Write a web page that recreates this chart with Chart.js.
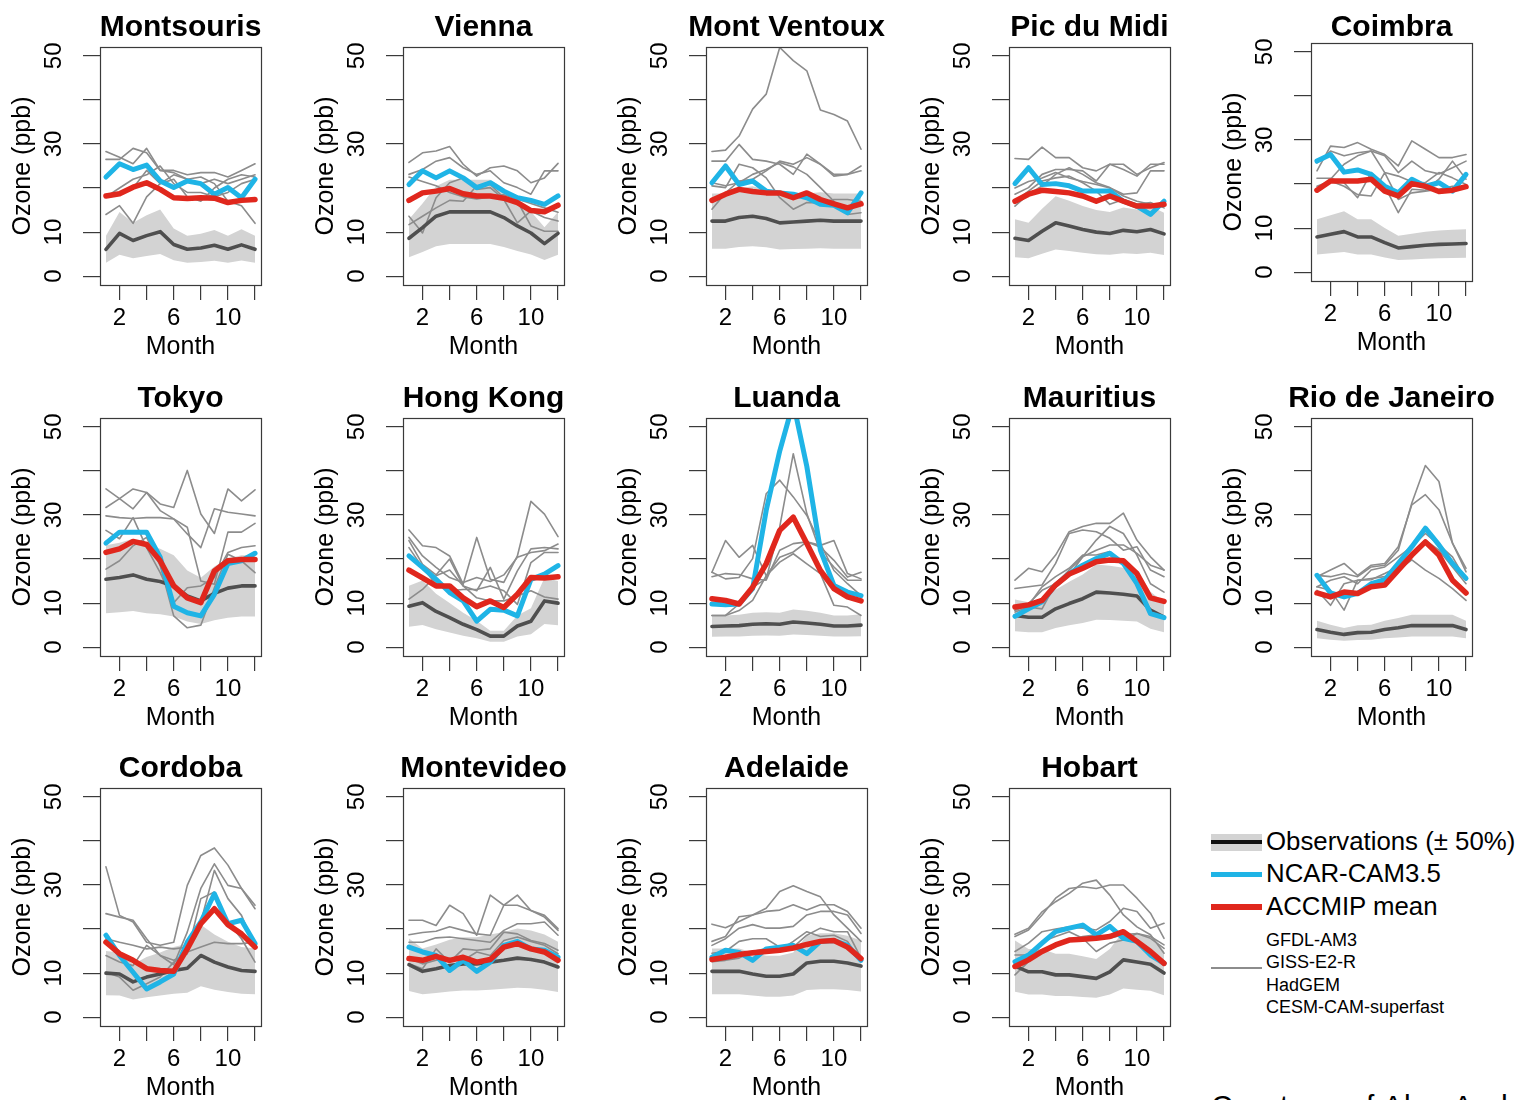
<!DOCTYPE html>
<html>
<head>
<meta charset="utf-8">
<script src="https://cdn.jsdelivr.net/npm/chart.js@4.4.1/dist/chart.umd.min.js"></script>
<style>
  html, body { margin: 0; padding: 0; background: #fff; overflow: hidden; }
  #page { position: relative; width: 1517px; height: 1100px; overflow: hidden;
          font-family: "Liberation Sans", Arial, Helvetica, sans-serif; color: #000; }
  #page canvas { position: absolute; }
  .sw { position: absolute; }
  .lt { position: absolute; white-space: nowrap; line-height: 1; }
</style>
</head>
<body>
<div id="page">
  <!-- legend -->
  <div class="sw" style="left:1211px;top:834px;width:51px;height:17px;background:#d3d3d3"></div>
  <div class="sw" style="left:1211px;top:840px;width:51px;height:4px;background:#111"></div>
  <div class="lt" style="left:1266px;top:829px;font-size:25.8px">Observations (± 50%)</div>
  <div class="sw" style="left:1211px;top:872px;width:51px;height:5px;background:#1fb4e6"></div>
  <div class="lt" style="left:1266px;top:861px;font-size:25.8px">NCAR-CAM3.5</div>
  <div class="sw" style="left:1211px;top:904px;width:51px;height:6px;background:#e0271d"></div>
  <div class="lt" style="left:1266px;top:894px;font-size:25.8px">ACCMIP mean</div>
  <div class="sw" style="left:1211px;top:967px;width:51px;height:2px;background:#8c8c8c"></div>
  <div class="lt" id="modelNames" style="left:1266px;top:929px;font-size:18px;line-height:22.3px"></div>
  <div class="lt" style="left:1211px;top:1091px;font-size:30px;letter-spacing:1px">Courtesy of Alex Archibald</div>
</div>
<script>
// ---- data: monthly surface ozone (ppb) ----
const MONTHS = [1, 2, 3, 4, 5, 6, 7, 8, 9, 10, 11, 12];

const STATIONS = ['Montsouris', 'Vienna', 'Mont Ventoux', 'Pic du Midi', 'Coimbra',
                  'Tokyo', 'Hong Kong', 'Luanda', 'Mauritius', 'Rio de Janeiro',
                  'Cordoba', 'Montevideo', 'Adelaide', 'Hobart'];

const OBS = [
  [6.1, 9.7, 8.1, 9.2, 10.1, 7.2, 6.1, 6.4, 7.0, 6.1, 7.1, 6.1],
  [8.6, 11.0, 13.6, 14.6, 14.6, 14.6, 14.6, 13.3, 11.4, 9.8, 7.4, 9.7],
  [12.5, 12.5, 13.3, 13.6, 13.1, 12.1, 12.3, 12.5, 12.7, 12.5, 12.5, 12.5],
  [8.6, 8.1, 10.2, 12.1, 11.4, 10.6, 10.0, 9.7, 10.4, 10.1, 10.6, 9.6],
  [8.0, 8.6, 9.2, 8.0, 8.0, 6.7, 5.5, 5.8, 6.1, 6.3, 6.4, 6.5],
  [15.4, 15.8, 16.4, 15.4, 14.9, 13.9, 11.6, 10.5, 12.2, 13.4, 13.9, 13.9],
  [9.3, 10.1, 8.1, 6.7, 5.2, 4.0, 2.5, 2.5, 4.8, 5.9, 10.5, 10.0],
  [4.7, 4.8, 4.9, 5.2, 5.3, 5.2, 5.7, 5.5, 5.2, 4.8, 4.8, 5.0],
  [7.2, 6.8, 6.8, 8.7, 9.9, 11.0, 12.5, 12.3, 12.0, 11.6, 8.4, 6.8],
  [4.0, 3.4, 2.9, 3.3, 3.4, 4.0, 4.4, 4.9, 4.9, 4.9, 4.9, 4.0],
  [10.0, 9.8, 8.0, 9.1, 9.8, 10.6, 11.1, 14.0, 12.5, 11.4, 10.6, 10.4],
  [11.9, 10.4, 11.0, 11.7, 12.1, 12.1, 12.5, 12.9, 13.4, 13.1, 12.5, 11.4],
  [10.4, 10.4, 10.4, 9.8, 9.3, 9.3, 9.8, 12.3, 12.7, 12.7, 12.3, 11.6],
  [11.6, 10.3, 10.3, 9.6, 9.6, 9.2, 8.8, 10.3, 13.0, 12.5, 12.0, 10.0]
];

// the shaded band spans the observations +/- this fraction
const OBS_SPREAD = 0.5;

const NCAR_CAM35 = [
  [22.5, 25.5, 24.2, 25.2, 21.6, 20.1, 21.6, 21.0, 18.6, 20.1, 17.8, 22.0],
  [20.8, 23.9, 22.3, 23.9, 22.3, 20.1, 21.2, 19.3, 17.8, 17.2, 16.3, 18.2],
  [21.2, 25.0, 20.8, 21.6, 19.3, 18.9, 18.6, 17.8, 16.3, 16.1, 14.4, 18.9],
  [21.0, 24.6, 20.8, 21.0, 20.5, 19.3, 19.3, 19.3, 17.0, 15.9, 14.0, 17.0],
  [25.2, 26.7, 22.7, 23.2, 22.2, 19.5, 18.0, 21.1, 19.5, 20.3, 18.4, 22.2],
  [23.6, 26.1, 26.1, 26.1, 20.4, 9.3, 7.8, 7.1, 12.0, 19.0, 19.6, 21.3],
  [20.7, 18.1, 15.4, 12.4, 10.5, 5.9, 8.6, 8.4, 7.1, 15.4, 16.6, 18.5],
  [9.8, 9.6, 9.8, 13.3, 31.0, 44.5, 55.5, 41.0, 22.0, 14.0, 12.5, 11.7],
  [7.0, 8.7, 10.3, 14.1, 16.7, 18.6, 20.1, 21.3, 19.0, 14.4, 7.6, 6.7],
  [16.3, 12.3, 11.4, 12.2, 14.4, 15.3, 19.0, 22.8, 27.0, 23.2, 19.0, 15.6],
  [18.6, 14.0, 10.2, 6.4, 8.0, 9.8, 17.0, 21.6, 28.0, 21.2, 22.0, 16.7],
  [15.9, 14.8, 14.0, 10.6, 12.9, 10.4, 12.5, 16.3, 17.2, 15.5, 15.2, 13.6],
  [13.6, 15.2, 14.7, 12.9, 15.5, 15.9, 16.3, 14.4, 17.2, 17.4, 16.3, 12.9],
  [12.6, 14.1, 16.8, 19.4, 20.2, 20.9, 18.7, 20.6, 17.9, 17.2, 14.1, 12.2]
];

const ACCMIP_MEAN = [
  [18.2, 18.7, 20.2, 21.2, 19.7, 17.8, 17.6, 17.8, 17.7, 16.7, 17.2, 17.4],
  [17.2, 18.9, 19.3, 19.9, 18.7, 18.2, 18.2, 17.7, 16.7, 14.9, 14.6, 16.1],
  [17.2, 18.6, 19.7, 19.2, 18.9, 18.9, 17.8, 18.9, 17.4, 16.4, 15.5, 16.4],
  [17.0, 18.6, 19.5, 19.2, 18.9, 18.2, 17.0, 18.2, 17.0, 15.9, 15.9, 16.3],
  [18.6, 20.7, 20.7, 20.7, 21.1, 18.4, 17.3, 20.1, 19.5, 18.3, 18.6, 19.4],
  [21.5, 22.3, 24.0, 23.3, 19.6, 13.9, 11.2, 10.1, 17.3, 19.6, 19.9, 19.9],
  [17.5, 15.7, 13.9, 13.9, 11.2, 9.2, 10.5, 9.0, 12.0, 15.8, 15.7, 16.0],
  [11.0, 10.6, 9.8, 13.6, 18.9, 26.5, 29.5, 23.5, 17.4, 13.3, 11.4, 10.5],
  [9.1, 9.6, 10.6, 14.1, 16.6, 17.9, 19.4, 19.8, 19.6, 16.7, 11.2, 10.4],
  [12.3, 11.4, 12.5, 12.2, 13.7, 14.1, 17.5, 20.9, 23.9, 20.9, 15.2, 12.3],
  [17.0, 14.4, 12.9, 11.0, 10.6, 10.4, 15.5, 21.2, 24.6, 21.0, 18.9, 15.9],
  [13.3, 12.9, 13.8, 12.9, 13.6, 12.5, 13.1, 15.9, 16.7, 15.5, 14.8, 12.9],
  [13.1, 13.6, 14.2, 14.6, 14.9, 15.2, 15.7, 16.5, 17.2, 17.4, 15.9, 13.3],
  [11.5, 13.0, 14.9, 16.4, 17.5, 17.7, 17.9, 18.3, 19.4, 17.2, 14.9, 12.2]
];

// individual ACCMIP model runs (thin grey lines), one list of runs per station
const OTHER_MODELS = [
  [ [28.3, 27.0, 25.5, 29.0, 24.0, 23.5, 22.0, 21.0, 22.0, 21.0, 22.0, 23.0],
    [26.5, 26.5, 29.0, 28.0, 24.0, 24.0, 23.0, 23.5, 23.5, 22.5, 24.0, 25.5],
    [18.5, 18.5, 20.0, 24.0, 21.0, 23.0, 22.0, 22.5, 21.0, 17.0, 16.0, 12.0],
    [14.0, 16.0, 12.0, 18.0, 21.0, 22.0, 18.0, 17.0, 20.0, 22.0, 23.0, 22.5],
    [18.0, 20.0, 22.0, 23.0, 25.0, 21.0, 19.0, 19.0, 18.0, 19.0, 21.0, 22.0] ],
  [ [25.8, 28.0, 28.4, 29.4, 25.4, 22.7, 24.6, 25.0, 23.9, 21.2, 22.3, 25.6],
    [23.1, 24.2, 26.1, 26.9, 24.6, 23.1, 23.9, 21.2, 20.1, 18.6, 23.9, 23.9],
    [13.6, 9.8, 17.8, 21.2, 22.3, 19.7, 20.1, 17.4, 12.1, 14.8, 13.3, 12.5],
    [11.7, 13.6, 15.5, 17.2, 17.0, 20.5, 20.8, 17.8, 17.0, 11.4, 10.2, 10.2],
    [22.5, 21.5, 20.5, 19.0, 18.0, 17.5, 18.0, 18.5, 17.5, 16.5, 15.5, 14.5] ],
  [ [28.3, 28.6, 31.8, 37.9, 41.3, 51.9, 48.9, 46.6, 37.7, 36.7, 35.2, 28.8],
    [26.1, 26.1, 29.9, 26.5, 26.1, 25.4, 23.1, 27.7, 25.4, 23.1, 23.1, 23.9],
    [20.5, 20.1, 25.4, 24.6, 22.3, 17.8, 15.2, 16.7, 16.7, 17.4, 17.4, 17.0],
    [15.2, 18.9, 21.6, 22.0, 23.9, 26.1, 25.4, 26.9, 25.4, 22.7, 23.1, 25.0],
    [21.2, 20.5, 21.2, 23.1, 24.2, 25.8, 24.8, 23.1, 20.1, 17.0, 14.0, 14.4] ],
  [ [26.7, 26.5, 29.3, 26.9, 26.9, 24.6, 23.9, 25.4, 25.4, 23.1, 24.6, 25.8],
    [18.6, 20.1, 23.1, 24.2, 24.2, 23.9, 21.6, 25.4, 24.2, 22.7, 25.4, 25.4],
    [15.9, 18.6, 20.5, 23.1, 24.6, 23.1, 21.2, 20.1, 18.6, 18.9, 23.9, 23.9],
    [17.0, 19.3, 21.6, 22.3, 22.7, 21.2, 19.3, 16.3, 17.4, 16.3, 16.7, 15.5],
    [20.0, 21.5, 22.3, 23.5, 22.3, 21.5, 20.8, 20.0, 18.2, 17.0, 16.3, 15.9] ],
  [ [23.0, 28.6, 28.3, 29.4, 27.9, 26.7, 24.1, 29.8, 27.9, 26.0, 26.0, 26.7],
    [24.8, 27.5, 26.4, 27.1, 27.5, 26.4, 22.6, 25.2, 23.0, 22.3, 23.7, 25.2],
    [21.3, 21.3, 20.3, 16.9, 22.6, 19.5, 13.5, 18.8, 18.6, 21.1, 25.2, 21.1],
    [18.8, 21.1, 24.5, 26.4, 27.5, 22.6, 21.8, 20.5, 20.3, 22.6, 21.4, 19.9],
    [19.5, 20.7, 19.5, 17.6, 17.3, 22.6, 16.5, 18.0, 18.4, 18.8, 19.5, 19.1] ],
  [ [35.9, 33.7, 35.9, 35.1, 32.5, 31.7, 40.1, 30.2, 25.8, 35.9, 33.2, 35.7],
    [31.7, 33.7, 31.4, 35.1, 31.0, 29.1, 25.7, 22.6, 31.4, 30.6, 30.2, 29.8],
    [29.8, 29.4, 29.2, 29.4, 29.4, 29.1, 27.2, 15.0, 14.3, 26.1, 26.1, 28.1],
    [26.5, 24.6, 29.4, 22.6, 16.9, 10.1, 13.5, 13.9, 15.8, 21.5, 22.6, 23.0],
    [17.7, 19.6, 23.0, 24.9, 18.5, 7.1, 4.4, 5.0, 13.5, 21.1, 19.6, 16.9] ],
  [ [26.6, 23.0, 22.6, 20.7, 14.3, 24.9, 15.4, 14.7, 20.7, 33.1, 30.2, 25.1],
    [24.9, 20.7, 18.1, 15.8, 14.7, 15.8, 14.9, 16.4, 20.4, 21.5, 21.9, 23.4],
    [24.2, 18.8, 16.4, 20.0, 13.9, 12.8, 18.1, 10.9, 17.3, 22.3, 22.6, 22.3],
    [22.6, 18.1, 14.3, 12.8, 13.1, 13.1, 13.9, 12.8, 9.7, 19.2, 21.5, 21.5],
    [10.9, 13.1, 16.2, 17.5, 13.9, 11.2, 10.5, 10.5, 11.6, 12.8, 11.4, 10.9] ],
  [ [7.2, 7.2, 9.8, 13.6, 15.5, 27.3, 43.9, 30.3, 21.6, 18.2, 15.2, 15.2],
    [17.0, 15.5, 15.8, 20.1, 34.8, 37.9, 34.1, 29.9, 23.5, 17.4, 14.4, 11.7],
    [17.0, 24.2, 20.4, 23.1, 16.2, 20.4, 21.6, 23.9, 23.1, 24.2, 16.7, 15.5],
    [16.0, 16.7, 16.5, 15.5, 15.2, 22.0, 23.5, 23.9, 22.7, 19.7, 15.9, 17.0],
    [7.2, 7.2, 8.3, 10.6, 16.2, 19.3, 21.2, 18.9, 16.7, 9.5, 9.1, 7.2] ],
  [ [15.2, 17.9, 17.1, 20.9, 26.2, 27.4, 28.1, 28.1, 30.4, 24.3, 20.5, 17.5],
    [13.3, 13.7, 14.1, 19.0, 25.8, 26.6, 26.2, 24.7, 22.0, 22.8, 17.5, 16.0],
    [8.0, 9.1, 8.7, 14.4, 16.3, 20.5, 24.3, 27.4, 25.8, 20.9, 14.4, 12.5],
    [8.4, 9.9, 12.9, 14.4, 17.5, 20.5, 22.0, 23.2, 23.2, 21.3, 18.6, 17.5],
    [8.4, 9.5, 13.7, 16.0, 17.9, 20.9, 20.9, 21.7, 19.0, 14.4, 8.4, 6.8] ],
  [ [16.3, 16.0, 16.7, 16.0, 18.2, 18.6, 22.0, 32.7, 41.2, 37.6, 23.6, 17.1],
    [16.0, 17.5, 19.0, 16.3, 18.6, 19.0, 22.8, 32.3, 34.6, 31.2, 23.6, 17.9],
    [13.7, 15.2, 16.0, 14.4, 17.5, 18.2, 20.5, 22.8, 25.8, 23.2, 20.5, 15.2],
    [12.9, 9.5, 14.4, 15.2, 15.3, 16.7, 18.2, 21.3, 24.3, 22.0, 18.2, 14.4],
    [13.7, 12.9, 8.4, 15.2, 15.6, 16.0, 17.5, 19.8, 17.5, 15.6, 13.3, 10.6] ],
  [ [34.1, 23.1, 21.6, 17.0, 16.3, 17.0, 29.9, 36.7, 38.4, 34.5, 29.2, 25.4],
    [23.5, 22.7, 22.0, 17.8, 14.0, 11.9, 19.3, 29.2, 34.8, 29.9, 29.2, 24.6],
    [17.8, 17.0, 16.3, 15.5, 15.9, 15.5, 15.9, 21.6, 33.3, 26.9, 23.1, 15.9],
    [14.0, 12.5, 11.7, 16.3, 14.0, 12.9, 14.4, 26.9, 28.4, 21.6, 17.8, 12.5],
    [10.2, 9.1, 6.1, 7.6, 9.1, 12.5, 14.8, 15.9, 17.0, 16.7, 16.7, 17.0] ],
  [ [22.0, 22.0, 20.8, 25.4, 23.5, 18.6, 27.7, 25.4, 27.7, 24.2, 23.1, 20.1],
    [18.7, 19.2, 19.5, 20.5, 19.7, 18.9, 18.6, 25.4, 25.4, 24.2, 22.7, 19.7],
    [17.0, 17.0, 18.0, 18.2, 17.8, 17.4, 17.0, 19.7, 21.2, 21.2, 21.6, 18.6],
    [12.1, 11.0, 15.5, 12.5, 15.5, 15.2, 15.5, 19.3, 18.9, 17.4, 16.7, 15.2],
    [13.3, 12.1, 12.9, 13.3, 12.9, 14.8, 14.0, 17.4, 18.2, 17.2, 16.3, 14.4] ],
  [ [21.1, 20.3, 21.7, 23.2, 24.7, 28.5, 29.8, 28.5, 27.3, 23.2, 20.2, 17.2],
    [17.2, 18.3, 22.8, 23.2, 24.0, 24.3, 25.5, 24.3, 25.5, 25.5, 24.0, 20.2],
    [16.3, 17.8, 20.2, 21.0, 20.2, 20.2, 20.6, 23.2, 24.0, 24.0, 23.2, 19.0],
    [14.5, 14.9, 17.2, 17.8, 17.8, 15.9, 15.9, 18.6, 20.2, 19.4, 19.4, 13.4],
    [12.6, 12.9, 13.4, 14.9, 15.6, 15.2, 17.2, 19.4, 18.3, 18.6, 17.2, 12.6] ],
  [ [18.8, 20.2, 23.9, 26.2, 28.1, 30.4, 31.1, 27.7, 23.2, 20.5, 18.7, 14.5],
    [18.3, 19.8, 23.2, 27.0, 29.2, 29.6, 29.2, 30.0, 30.0, 27.0, 23.6, 17.9],
    [14.9, 16.8, 19.4, 20.0, 20.5, 20.2, 19.8, 21.7, 24.7, 24.0, 20.2, 21.3],
    [9.6, 12.6, 17.2, 18.3, 19.4, 17.9, 14.9, 16.8, 17.5, 19.0, 18.3, 16.4],
    [14.1, 14.1, 15.3, 16.4, 17.2, 18.3, 18.7, 17.9, 18.7, 19.0, 17.9, 15.6] ]
];

const MODEL_NAMES = ['GFDL-AM3', 'GISS-E2-R', 'HadGEM', 'CESM-CAM-superfast'];

const X_TICKS = [2, 4, 6, 8, 10, 12];
const X_TICK_LABELS = [2, 6, 10];
const Y_TICKS = [0, 10, 20, 30, 40, 50];
const Y_TICK_LABELS = [0, 10, 30, 50];

// ---- styling ----
const FONT = '"Liberation Sans", Arial, Helvetica, sans-serif';
const COL_BAND = '#d3d3d3';
const COL_OBS = '#4f4f4f';
const COL_NCAR = '#1fb4e6';
const COL_MEAN = '#e0271d';
const COL_MODEL = '#8c8c8c';
const COL_AXIS = '#3a3a3a';

// ---- layout: 5 x 3 grid of panels ----
const CANVAS_W = 303, CANVAS_H = 370;
const PLOT_LEFT = 100, PLOT_TOP = 47, PLOT_W = 161, PLOT_H = 238;
const COL_X = [0, 303, 606, 909, 1211];
const ROW_Y = [0, 371, 741];
const SHIFT_Y = { 'Coimbra': -4 };

document.getElementById('modelNames').innerHTML = MODEL_NAMES.join('<br>');

// panel box plus bold station name above it
const framePlugin = {
  id: 'panelFrame',
  afterDraw(chart, args, opts) {
    const { ctx, chartArea: a } = chart;
    ctx.save();
    ctx.strokeStyle = COL_AXIS;
    ctx.lineWidth = 1.2;
    ctx.strokeRect(a.left + 0.5, a.top + 0.5, a.right - a.left, a.bottom - a.top);
    ctx.fillStyle = '#000';
    ctx.font = 'bold 30px ' + FONT;
    ctx.textAlign = 'center';
    ctx.textBaseline = 'alphabetic';
    ctx.fillText(opts.text, (a.left + a.right) / 2, a.top - 11 - (opts.shift || 0));
    ctx.restore();
  }
};

const page = document.getElementById('page');

function series(values) {
  return MONTHS.map((m, k) => ({ x: m, y: values[k] }));
}

STATIONS.forEach((name, i) => {
  const row = Math.floor(i / 5), col = i % 5;
  const shift = SHIFT_Y[name] || 0;
  const canvas = document.createElement('canvas');
  canvas.width = CANVAS_W;
  canvas.height = CANVAS_H;
  canvas.style.left = COL_X[col] + 'px';
  canvas.style.top = (ROW_Y[row] + shift) + 'px';
  page.appendChild(canvas);

  const lower = OBS[i].map(v => v * (1 - OBS_SPREAD));
  const upper = OBS[i].map(v => v * (1 + OBS_SPREAD));

  const datasets = [
    { data: series(lower), borderColor: 'rgba(0,0,0,0)', borderWidth: 1, fill: false, order: 20 },
    { data: series(upper), borderColor: 'rgba(0,0,0,0)', borderWidth: 1, backgroundColor: COL_BAND, fill: '-1', order: 19 }
  ];
  OTHER_MODELS[i].forEach(run => {
    datasets.push({ data: series(run), borderColor: COL_MODEL, borderWidth: 1.6, order: 10 });
  });
  datasets.push({ data: series(OBS[i]), borderColor: COL_OBS, borderWidth: 3.6, order: 3 });
  datasets.push({ data: series(NCAR_CAM35[i]), borderColor: COL_NCAR, borderWidth: 5, order: 2 });
  datasets.push({ data: series(ACCMIP_MEAN[i]), borderColor: COL_MEAN, borderWidth: 5.5, order: 1 });

  new Chart(canvas, {
    type: 'line',
    data: { datasets },
    options: {
      responsive: false,
      animation: false,
      events: [],
      layout: { padding: { top: PLOT_TOP, right: CANVAS_W - PLOT_LEFT - PLOT_W, bottom: 0, left: 0 } },
      elements: {
        line: { tension: 0, borderCapStyle: 'round', borderJoinStyle: 'round', fill: false },
        point: { radius: 0, hoverRadius: 0 }
      },
      plugins: {
        legend: { display: false },
        tooltip: { enabled: false },
        title: { display: false },
        panelFrame: { text: name, shift: shift }
      },
      scales: {
        x: {
          type: 'linear', position: 'bottom', min: 0.56, max: 12.44, bounds: 'data',
          afterBuildTicks: s => { s.ticks = X_TICKS.map(v => ({ value: v })); },
          afterFit: s => { s.height = CANVAS_H - PLOT_TOP - PLOT_H; },
          ticks: {
            autoSkip: false, minRotation: 0, maxRotation: 0, padding: 3.5, color: '#000',
            font: { family: FONT, size: 24 },
            callback: v => X_TICK_LABELS.includes(v) ? String(v) : ''
          },
          grid: { display: true, drawOnChartArea: false, drawTicks: true, tickLength: 15, color: COL_AXIS, lineWidth: 1.2 },
          border: { display: false },
          title: { display: true, text: 'Month', color: '#000', font: { family: FONT, size: 25 }, padding: { top: 0, bottom: 8 } }
        },
        y: {
          type: 'linear', position: 'left', min: -2, max: 52, bounds: 'data',
          afterBuildTicks: s => { s.ticks = Y_TICKS.map(v => ({ value: v })); },
          afterFit: s => { s.width = PLOT_LEFT; },
          ticks: {
            autoSkip: false, minRotation: 90, maxRotation: 90, crossAlign: 'center', padding: 15.5, color: '#000',
            font: { family: FONT, size: 24 },
            callback: v => Y_TICK_LABELS.includes(v) ? String(v) : ''
          },
          grid: { display: true, drawOnChartArea: false, drawTicks: true, tickLength: 17, color: COL_AXIS, lineWidth: 1.2 },
          border: { display: false },
          title: { display: true, text: 'Ozone (ppb)', color: '#000', font: { family: FONT, size: 25 }, padding: { top: 8, bottom: 0 } }
        }
      }
    },
    plugins: [framePlugin]
  });
});
</script>
</body>
</html>
